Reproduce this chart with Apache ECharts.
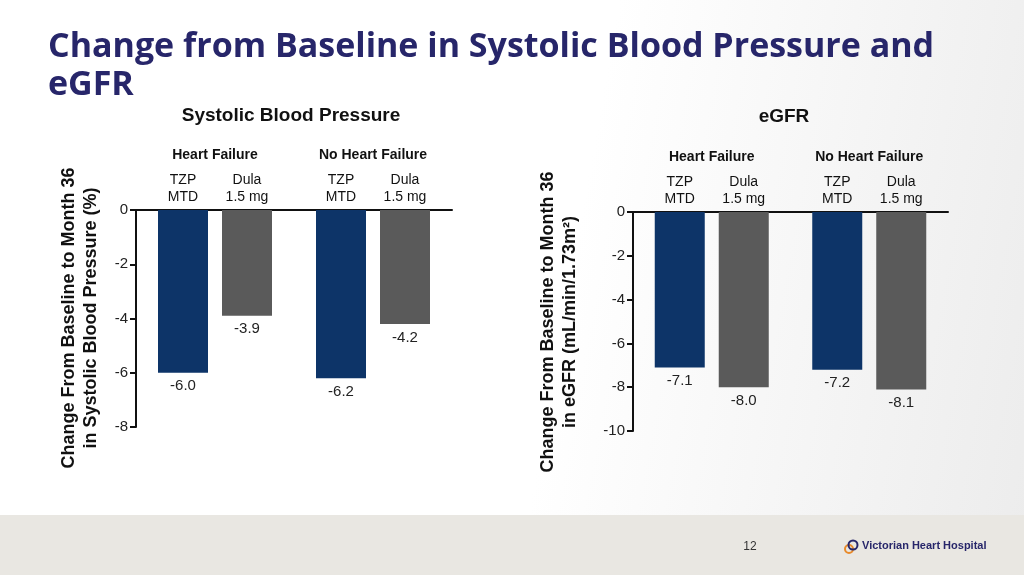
<!DOCTYPE html>
<html>
<head>
<meta charset="utf-8">
<script src="https://cdn.jsdelivr.net/npm/echarts@6/dist/echarts.min.js"></script>
<style>
html,body{margin:0;padding:0;}
#main{width:1024px;height:575px;background:linear-gradient(100deg,#ffffff 55%,#ececec 100%);}
</style>
</head>
<body>
<div id="main"></div>
<script>
// groups and arms
var groups = ['Heart Failure', 'No Heart Failure'];
var arms = ['TZP\nMTD', 'Dula\n1.5 mg'];
// systolic blood pressure change (%)
var sbpTzp = [-6.0, -6.2];
var sbpDula = [-3.9, -4.2];
// eGFR change (mL/min/1.73m2)
var egfrTzp = [-7.1, -7.2];
var egfrDula = [-8.0, -8.1];

var navy = '#0d3468';
var grey = '#5a5a5a';
var chart = echarts.init(document.getElementById('main'));

function yAxis(idx, min){
    return {
        gridIndex: idx, type: 'value', min: min, max: 0, interval: 2,
        axisLine: {show: true, lineStyle: {color: '#111', width: 2}},
        axisTick: {show: true, length: 6, lineStyle: {color: '#111', width: 2}},
        splitLine: {show: false},
        axisLabel: {color: '#222', fontSize: 15, fontFamily: 'Liberation Sans', margin: 8}
    };
}
function xAxis(idx){
    return {
        gridIndex: idx, type: 'category', data: groups, position: 'top',
        axisLine: {show: true, lineStyle: {color: '#111', width: 2}},
        axisTick: {show: false}, axisLabel: {show: false}
    };
}
function bar(idx, data, color){
    return {
        type: 'bar', xAxisIndex: idx, yAxisIndex: idx, data: data,
        barWidth: 50, barGap: '28%', itemStyle: {color: color},
        label: {show: true, position: 'bottom', distance: 6, color: '#222', fontSize: 15,
            fontFamily: 'Liberation Sans', formatter: function(p){ return p.value.toFixed(1); }},
        silent: true
    };
}

chart.setOption({
    animation: false,
    grid: [
        {left: 136, top: 210, width: 316, height: 217},
        {left: 633, top: 212, width: 315, height: 219}
    ],
    xAxis: [xAxis(0), xAxis(1)],
    yAxis: [yAxis(0, -8), yAxis(1, -10)],
    series: [bar(0, sbpTzp, navy), bar(0, sbpDula, grey), bar(1, egfrTzp, navy), bar(1, egfrDula, grey)]
});

var els = [
    {type: 'rect', shape: {x: 0, y: 515, width: 1024, height: 60}, style: {fill: '#e9e7e2'}},
    {type: 'text', left: 48, top: 28, style: {text: 'Change from Baseline in Systolic Blood Pressure and\neGFR',
        fill: '#27266a', font: 'bold 34px "Open Sans"', lineHeight: 38}},
    {type: 'text', x: 291, y: 116, style: {text: 'Systolic Blood Pressure', fill: '#111',
        font: 'bold 19px "Liberation Sans"', align: 'center', verticalAlign: 'middle'}},
    {type: 'text', x: 784, y: 117, style: {text: 'eGFR', fill: '#111',
        font: 'bold 19px "Liberation Sans"', align: 'center', verticalAlign: 'middle'}},
    {type: 'text', x: 80, y: 318, rotation: Math.PI / 2, style: {
        text: 'Change From Baseline to Month 36\nin Systolic Blood Pressure (%)', fill: '#111',
        font: 'bold 18px "Liberation Sans"', align: 'center', verticalAlign: 'middle', lineHeight: 22}},
    {type: 'text', x: 559, y: 322, rotation: Math.PI / 2, style: {
        text: 'Change From Baseline to Month 36\nin eGFR (mL/min/1.73m\u00b2)', fill: '#111',
        font: 'bold 18px "Liberation Sans"', align: 'center', verticalAlign: 'middle', lineHeight: 22}},
    {type: 'text', x: 750, y: 547, style: {text: '12', fill: '#333', font: '12px "Liberation Sans"',
        align: 'center', verticalAlign: 'middle'}},
    {type: 'circle', shape: {cx: 849, cy: 549, r: 4}, style: {fill: 'none', stroke: '#e88a2a', lineWidth: 2}},
    {type: 'circle', shape: {cx: 853, cy: 545, r: 4.5}, style: {fill: 'none', stroke: '#27266a', lineWidth: 2}},
    {type: 'text', x: 862, y: 546, style: {text: 'Victorian Heart Hospital', fill: '#27266a',
        font: 'bold 11px "Liberation Sans"', verticalAlign: 'middle'}}
];
// headers above bars, placed from the axis scale
[0, 1].forEach(function(gi){
    groups.forEach(function(g, ci){
        var c = chart.convertToPixel({gridIndex: gi}, [ci, 0]);
        els.push({type: 'text', x: c[0], y: c[1] - 55, style: {text: g, fill: '#111',
            font: 'bold 14px "Liberation Sans"', align: 'center', verticalAlign: 'middle'}});
        arms.forEach(function(a, ai){
            els.push({type: 'text', x: c[0] + (ai === 0 ? -32 : 32), y: c[1] - 21, style: {text: a,
                fill: '#111', font: '14px "Liberation Sans"', align: 'center', verticalAlign: 'middle', lineHeight: 17}});
        });
    });
});
chart.setOption({graphic: {elements: els}});
</script>
</body>
</html>
